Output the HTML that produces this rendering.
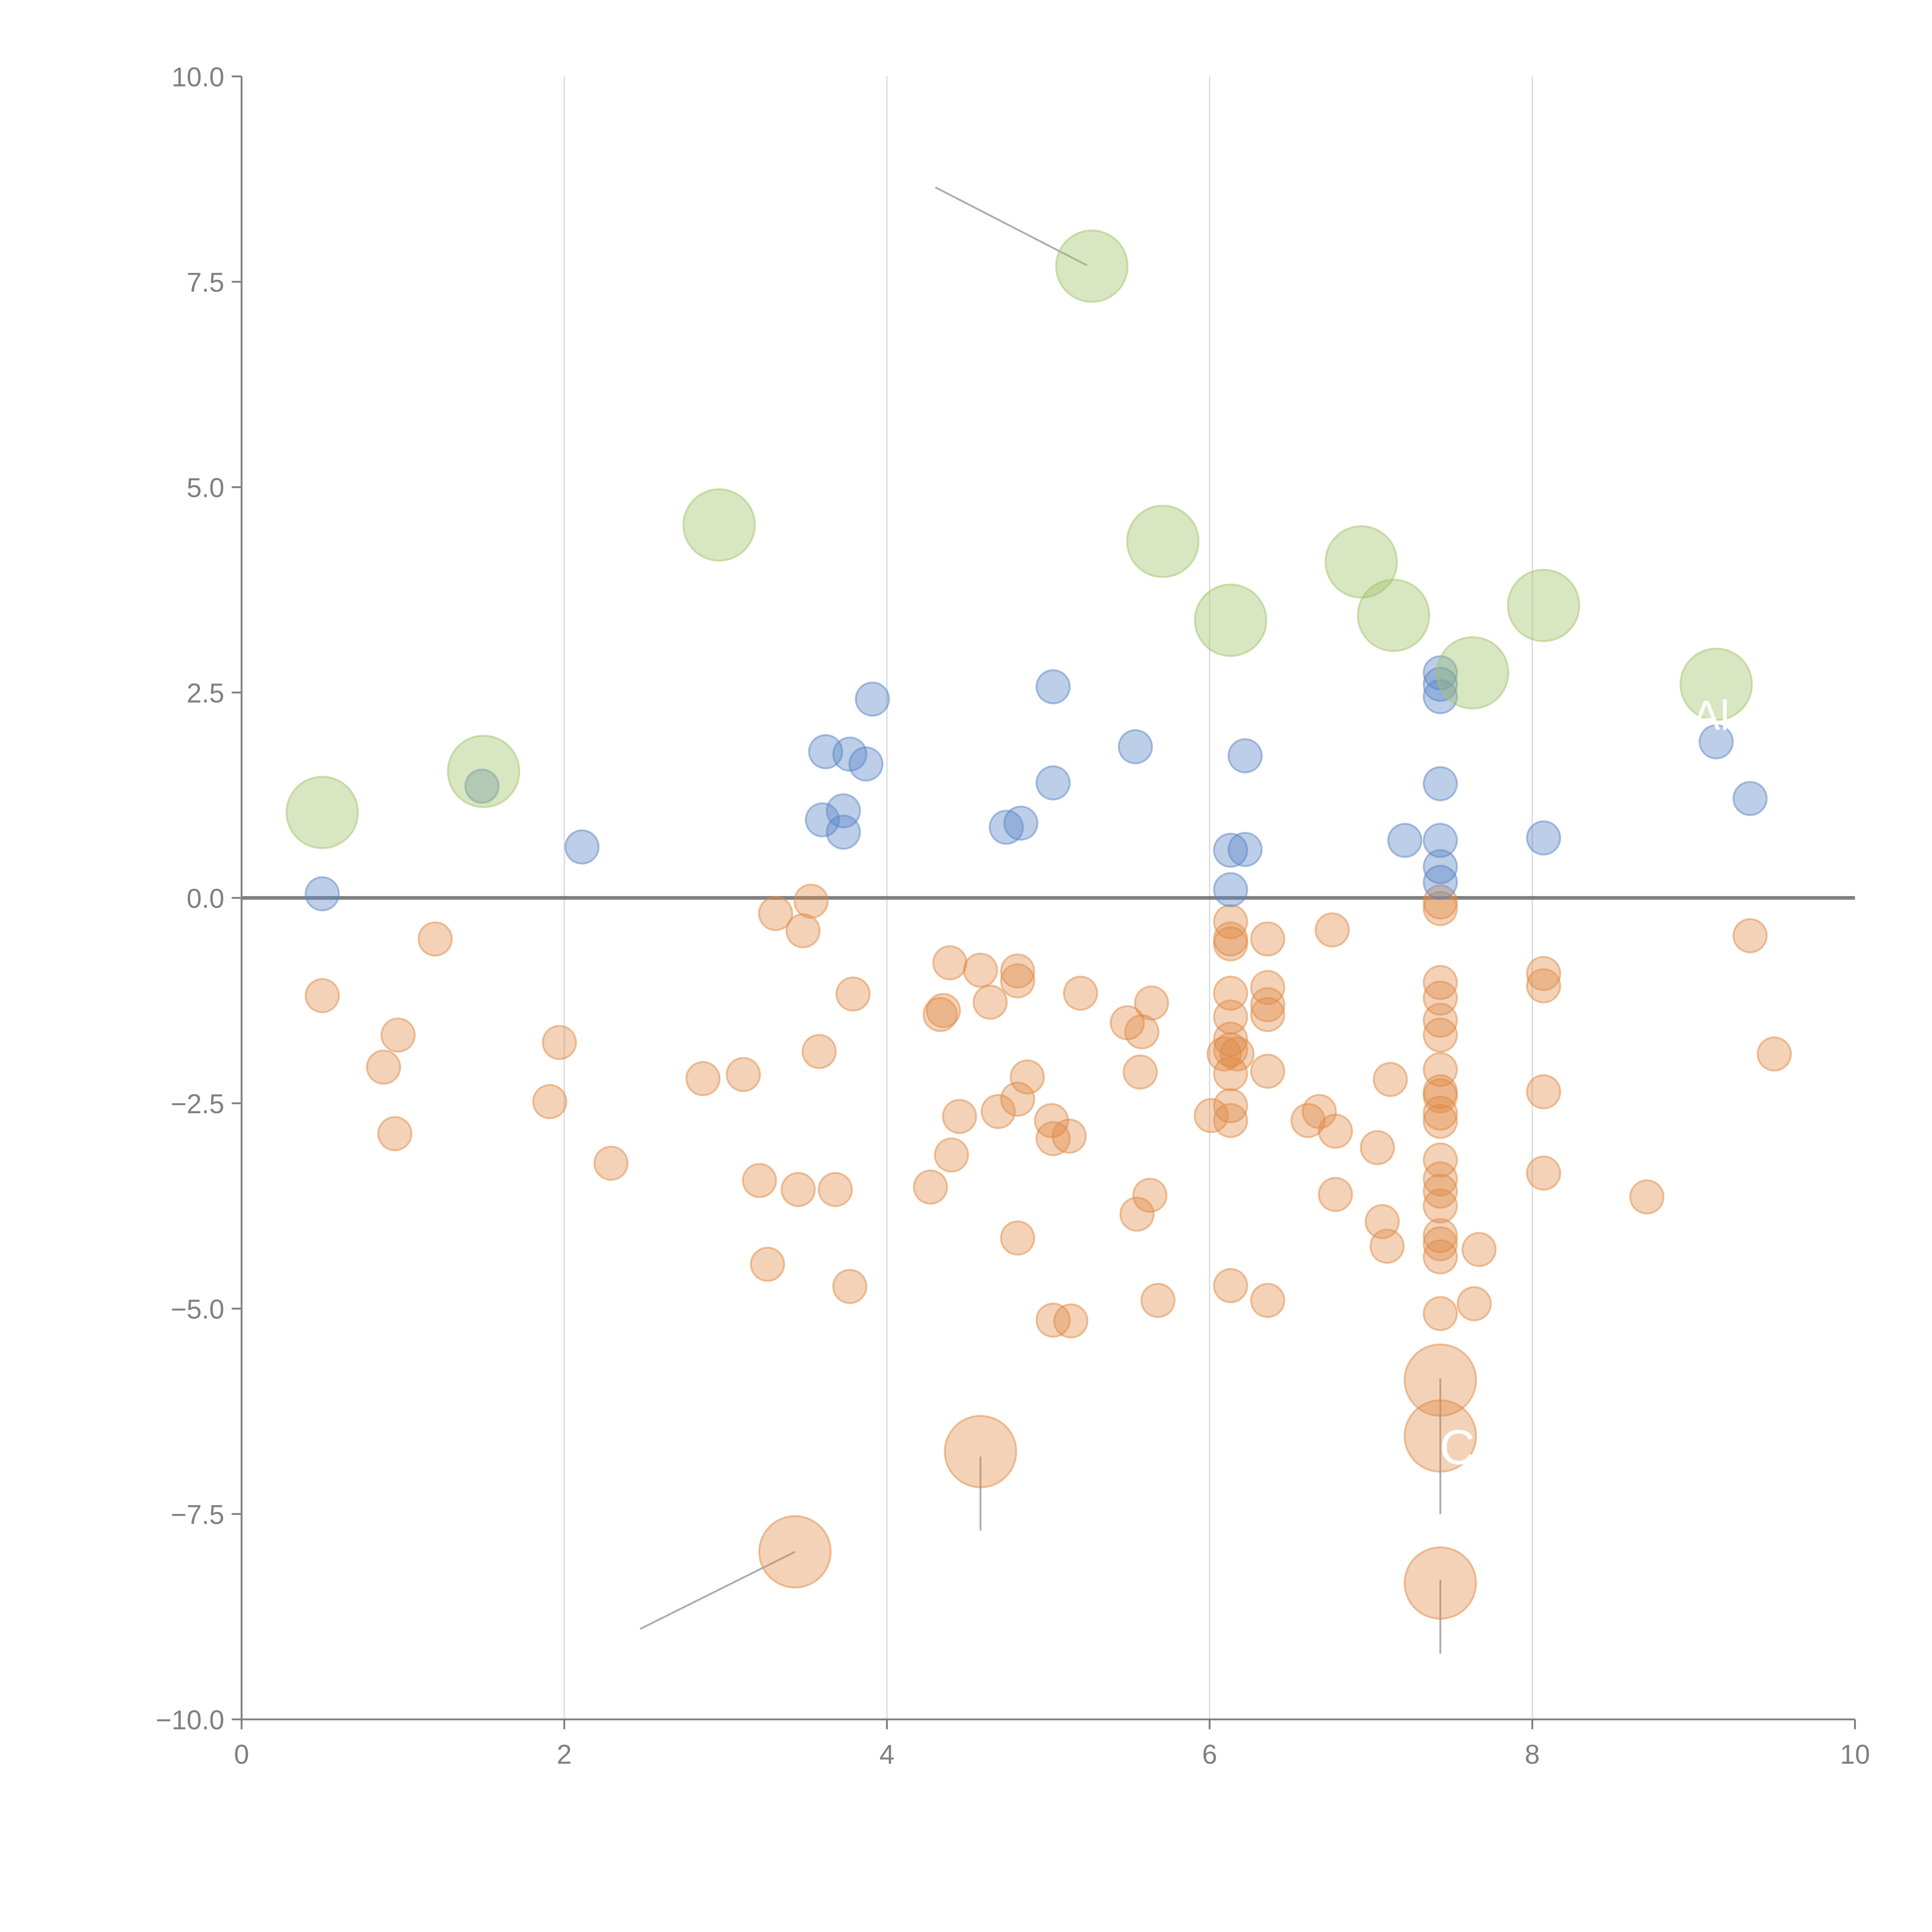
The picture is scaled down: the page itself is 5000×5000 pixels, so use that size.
<!DOCTYPE html>
<html><head><meta charset="utf-8"><style>
html,body{margin:0;padding:0;background:#fff}
svg{display:block}
text{font-family:"Liberation Sans",sans-serif}
</style></head><body>
<svg id="chart" width="5000" height="5000" viewBox="0 0 1567.5 1567.5" xmlns="http://www.w3.org/2000/svg">
<g id="grid"></g>
<g id="axes"></g>
<g id="lines"></g>
<g id="marks"></g>
<g id="labels"></g>
</svg>
<script>
const xTicks=[0,2,4,6,8,10];
const yTicks=[10,7.5,5,2.5,0,-2.5,-5,-7.5,-10];
const yTickLabels=["10.0","7.5","5.0","2.5","0.0","\u22122.5","\u22125.0","\u22127.5","\u221210.0"];
const blueX=[0.50,1.49,2.11,3.62,3.77,3.87,3.91,3.60,3.73,3.73,4.74,4.83,5.03,5.03,5.54,6.13,6.22,6.13,6.22,7.21,7.43,7.43,7.43,7.43,7.43,7.43,7.43,8.07,9.14,9.35];
const blueY=[0.05,1.36,0.62,1.78,1.75,1.63,2.42,0.95,1.06,0.80,0.86,0.91,2.57,1.40,1.84,0.58,0.59,0.10,1.73,0.70,2.74,2.60,2.45,1.39,0.70,0.38,0.19,0.73,1.90,1.21];
const greenX=[0.50,1.50,2.96,5.27,5.71,6.13,6.94,7.14,7.63,8.07,9.14];
const greenY=[1.04,1.54,4.54,7.69,4.34,3.38,4.09,3.44,2.74,3.56,2.60];
const orangeX=[0.50,0.88,0.97,0.95,1.20,1.91,1.97,2.29,2.86,3.11,3.21,3.26,3.31,3.45,3.48,3.53,3.58,3.68,3.77,3.79,4.27,4.33,4.35,4.39,4.40,4.45,4.58,4.64,4.69,4.81,4.81,4.81,4.81,4.87,5.02,5.03,5.03,5.13,5.14,5.20,5.49,5.55,5.57,5.58,5.63,5.64,5.68,6.01,6.09,6.13,6.13,6.13,6.13,6.13,6.13,6.13,6.13,6.13,6.13,6.13,6.17,6.36,6.36,6.36,6.36,6.36,6.36,6.61,6.68,6.76,6.78,6.78,7.04,7.07,7.10,7.12,7.43,7.43,7.43,7.43,7.43,7.43,7.43,7.43,7.43,7.43,7.43,7.43,7.43,7.43,7.43,7.43,7.43,7.43,7.43,7.64,7.67,8.07,8.07,8.07,8.07,8.71,9.35,9.50];
const orangeY=[-1.19,-2.06,-1.67,-2.87,-0.50,-2.48,-1.76,-3.23,-2.20,-2.15,-3.44,-4.46,-0.19,-3.55,-0.40,-0.04,-1.87,-3.55,-4.73,-1.17,-3.52,-1.42,-1.37,-0.79,-3.13,-2.66,-0.88,-1.27,-2.60,-0.89,-1.01,-2.45,-4.14,-2.18,-2.71,-2.93,-5.14,-2.90,-5.15,-1.16,-1.52,-3.85,-2.12,-1.63,-3.62,-1.28,-4.90,-2.65,-1.90,-0.29,-0.50,-0.56,-1.16,-1.45,-1.72,-1.85,-2.14,-2.53,-2.71,-4.72,-1.90,-0.50,-1.09,-1.30,-1.42,-2.11,-4.90,-2.71,-2.60,-0.39,-2.84,-3.61,-3.04,-3.94,-4.24,-2.21,-0.05,-0.13,-1.03,-1.22,-1.49,-1.67,-2.09,-2.36,-2.41,-2.62,-2.72,-3.19,-3.42,-3.57,-3.75,-4.11,-4.21,-4.37,-5.06,-4.94,-4.28,-0.92,-1.07,-2.36,-3.35,-3.64,-0.46,-1.90];
const bigOrangeX=[7.43,7.43,7.43,4.58,3.43];
const bigOrangeY=[-5.87,-6.55,-8.34,-6.74,-7.96];

const X0=196,X1=1505,Y0=1395,Y1=62;
function sx(v){return X0+(v-0)/10*(X1-X0);}
function sy(v){return Y0-(v+10)/20*(Y0-Y1);}
const NS="http://www.w3.org/2000/svg";
function mk(tag,attrs,parent){const e=document.createElementNS(NS,tag);for(const k in attrs)e.setAttribute(k,attrs[k]);parent.appendChild(e);return e;}
const grid=document.getElementById('grid'),axes=document.getElementById('axes'),marks=document.getElementById('marks'),lines=document.getElementById('lines'),labels=document.getElementById('labels');

xTicks.forEach(t=>{
  if(t>0&&t<10){const g=mk('line',{x1:sx(t),x2:sx(t),y1:Y1,y2:Y0,stroke:'#d9d9d9','stroke-width':1},grid);
  
  }
  const tk=mk('line',{x1:sx(t),x2:sx(t),y1:Y0,y2:Y0+8,stroke:'#808080','stroke-width':1.5},axes);
  
  
  const tx=mk('text',{x:sx(t),y:Y0+36,'text-anchor':'middle','font-size':22,fill:'#808080'},axes);
  tx.textContent=t;
  
  
});
yTicks.forEach((t,i)=>{
  const tk=mk('line',{x1:X0-8,x2:X0,y1:sy(t),y2:sy(t),stroke:'#808080','stroke-width':1.5},axes);
  
  
  const tx=mk('text',{x:X0-14,y:sy(t)+8,'text-anchor':'end','font-size':22,fill:'#808080'},axes);
  tx.textContent=yTickLabels[i];
  
  
});
const ya=mk('line',{x1:X0,x2:X0,y1:Y1,y2:Y0,stroke:'#808080','stroke-width':1.5},axes);


const xa=mk('line',{x1:X0,x2:X1,y1:Y0,y2:Y0,stroke:'#808080','stroke-width':1.5},axes);


const zl=mk('line',{x1:X0,x2:X1,y1:sy(0),y2:sy(0),stroke:'#808080','stroke-width':3},axes);



function dots(xs,ys,r,fill,stroke,op,name){
  xs.forEach((x,i)=>{
    const c=mk('circle',{cx:sx(x),cy:sy(ys[i]),r:r,fill:fill,'fill-opacity':op,stroke:stroke,'stroke-opacity':0.5,'stroke-width':1.5},marks);
    
    
  });
}
dots(orangeX,orangeY,13.5,'#e08a44','#e08a44',0.38,'orange-point');
dots(blueX,blueY,13.5,'#5b85c6','#5b85c6',0.4,'blue-point');
dots(greenX,greenY,29,'#a3c46c','#a3c46c',0.42,'green-point');
dots(bigOrangeX,bigOrangeY,29,'#e08a44','#e08a44',0.38,'large-orange-point');

const annX1=[4.3,2.47,4.58,7.43,7.43], annY1=[8.65,-8.9,-6.8,-5.85,-8.3];
const annX2=[5.24,3.43,4.58,7.43,7.43], annY2=[7.7,-7.96,-7.7,-7.5,-9.2];
annX1.forEach((x,i)=>{
  const l=mk('line',{x1:sx(x),y1:sy(annY1[i]),x2:sx(annX2[i]),y2:sy(annY2[i]),stroke:'#999','stroke-opacity':0.8,'stroke-width':1.5},lines);
  
  
});
const t1=mk('text',{x:1373,y:592,'font-size':34,fill:'#fff'},labels);t1.textContent='Al';


const t2=mk('text',{x:1168,y:1188,'font-size':40,fill:'#fff'},labels);t2.textContent='C';


</script>
</body></html>
